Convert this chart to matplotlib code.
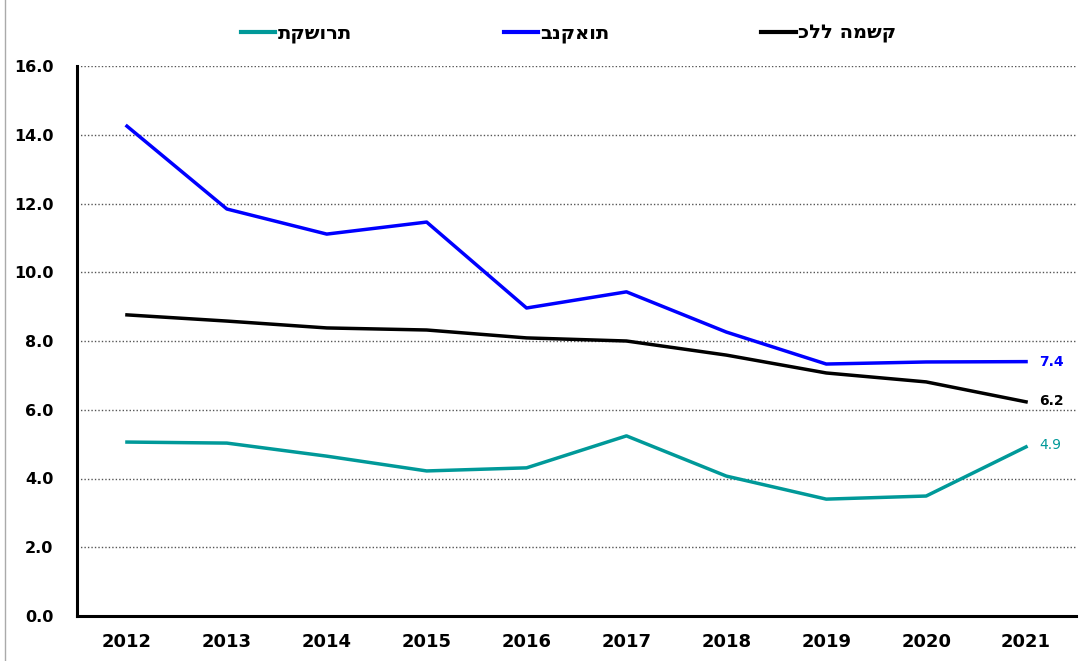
import matplotlib
matplotlib.use("Agg")
import matplotlib.pyplot as plt
from matplotlib.lines import Line2D

# נתונים
years = ["2012", "2013", "2014", "2015", "2016", "2017", "2018", "2019", "2020", "2021"]
banks = [14.25, 11.84, 11.11, 11.46, 8.96, 9.43, 8.26, 7.33, 7.39, 7.4]
economy = [8.76, 8.58, 8.38, 8.32, 8.09, 8.0, 7.59, 7.07, 6.81, 6.23]
telecom = [5.06, 5.03, 4.65, 4.22, 4.31, 5.24, 4.07, 3.40, 3.49, 4.92]

label_telecom = "תקשורת"
label_banks = "בנקאות"
label_economy = "כלל המשק"

plt.rcParams['font.family'] = ['DejaVu Sans']

fig = plt.figure(figsize=(10.85, 6.61), dpi=100)
ax = fig.add_axes([77 / 1085, 1 - 616 / 661, 999 / 1085, 550 / 661])

x = range(len(years))
teal = "#009999"
ax.plot(x, telecom, color=teal, lw=2.5, label=label_telecom)
ax.plot(x, banks, color="#0000FF", lw=2.5, label=label_banks)
ax.plot(x, economy, color="black", lw=2.5, label=label_economy)

# תוויות סוף
ax.text(9.13, banks[-1], "7.4", color="#0000FF", fontsize=10, fontweight="bold", va="center")
ax.text(9.13, economy[-1] + 0.02, "6.2", color="black", fontsize=10, fontweight="bold", va="center")
ax.text(9.13, telecom[-1] + 0.05, "4.9", color=teal, fontsize=10, va="center")

ax.set_xlim(-0.5, 9.5)
ax.set_ylim(0, 16)
yt = [0, 2, 4, 6, 8, 10, 12, 14, 16]
ax.set_yticks(yt)
ax.set_yticklabels([f"{v:.1f}" for v in yt], fontsize=11.5, fontweight="bold")
ax.set_xticks(list(x))
ax.set_xticklabels(years, fontsize=13, fontweight="bold")
ax.tick_params(axis="both", length=0)
ax.tick_params(axis="x", pad=12)
ax.tick_params(axis="y", pad=17)

ax.grid(axis="y", linestyle=(0, (1, 1.5)), color="#555555", lw=1.0)
ax.set_axisbelow(True)
for s in ["top", "right"]:
    ax.spines[s].set_visible(False)
ax.spines["left"].set_linewidth(2.2)
ax.spines["bottom"].set_linewidth(2.2)

leg = ax.legend(loc="lower center", bbox_to_anchor=(0.492, 1.01), ncol=3, frameon=False,
                prop={"size": 14, "weight": "bold"}, columnspacing=7.8,
                handlelength=1.77, handletextpad=0.12)
for h in leg.get_lines():
    h.set_linewidth(3)

fig.add_artist(Line2D([5 / 1085, 5 / 1085], [0, 1], color="#aaaaaa", lw=1))

fig.savefig("out.png", dpi=100)
